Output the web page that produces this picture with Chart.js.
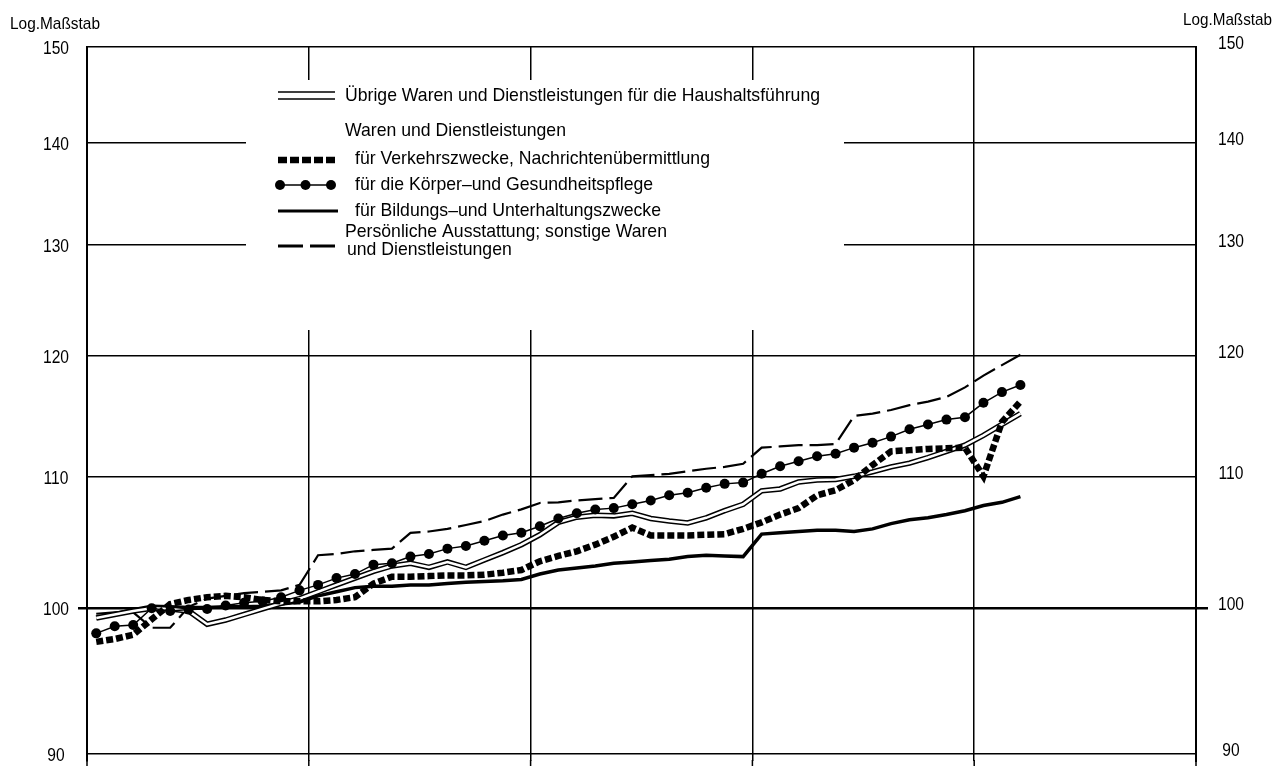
<!DOCTYPE html>
<html>
<head>
<meta charset="utf-8">
<script src="https://cdn.jsdelivr.net/npm/chart.js@4"></script>
<style>
  html, body { margin: 0; padding: 0; background: #fff; overflow: hidden; }
  canvas { display: block; }
</style>
</head>
<body>
<canvas id="chart" width="1275" height="766"></canvas>
<script>
// Monatswerte (Index), 51 Monate ab Jahresbeginn
const seriesNames = [
    "Übrige Waren und Dienstleistungen für die Haushaltsführung",
    "für Verkehrszwecke, Nachrichtenübermittlung",
    "für die Körper–und Gesundheitspflege",
    "für Bildungs–und Unterhaltungszwecke",
    "Persönliche Ausstattung; sonstige Waren und Dienstleistungen"
];
const uebrige = [99.3, 99.55, 99.8, 100.0, 99.95, 99.8, 98.85, 99.15, 99.55, 99.95,
    100.35, 100.7, 101.2, 101.7, 102.2, 102.7, 103.1, 103.3, 103.0, 103.4,
    103.0, 103.55, 104.1, 104.7, 105.45, 106.4, 106.8, 106.95, 106.9, 107.1,
    106.7, 106.5, 106.35, 106.75, 107.3, 107.8, 108.85, 109.0, 109.55, 109.7,
    109.75, 110.0, 110.35, 110.75, 111.05, 111.5, 112.0, 112.5, 113.3, 114.2, 115.1];
const verkehr = [97.6, 97.8, 98.1, 99.2, 100.3, 100.6, 100.8, 100.9, 100.8, 100.6,
    100.5, 100.5, 100.5, 100.6, 100.8, 101.8, 102.3, 102.3, 102.35, 102.4,
    102.4, 102.45, 102.6, 102.8, 103.45, 103.85, 104.2, 104.7, 105.3, 106.0,
    105.4, 105.4, 105.4, 105.45, 105.5, 105.9, 106.4, 107.0, 107.5, 108.5,
    108.9, 109.7, 110.9, 112.0, 112.1, 112.2, 112.25, 112.3, 110.0, 114.4, 116.1];
const koerper = [98.2, 98.7, 98.8, 100.0, 99.8, 99.9, 99.95, 100.2, 100.4, 100.5,
    100.8, 101.3, 101.7, 102.2, 102.5, 103.2, 103.3, 103.8, 104.0, 104.4,
    104.6, 105.0, 105.4, 105.6, 106.1, 106.7, 107.1, 107.4, 107.5, 107.8,
    108.1, 108.5, 108.7, 109.1, 109.4, 109.5, 110.2, 110.8, 111.2, 111.6,
    111.8, 112.3, 112.7, 113.2, 113.8, 114.2, 114.6, 114.8, 116.0, 116.9, 117.5];
const bildung = [99.3, 99.6, 99.9, 100.15, 100.1, 100.05, 100.05, 100.1, 100.1, 100.15,
    100.3, 100.45, 100.9, 101.2, 101.5, 101.6, 101.6, 101.7, 101.7, 101.8,
    101.9, 101.95, 102.0, 102.1, 102.5, 102.8, 102.95, 103.1, 103.3, 103.4,
    103.5, 103.6, 103.8, 103.9, 103.85, 103.8, 105.5, 105.6, 105.7, 105.8,
    105.8, 105.7, 105.9, 106.3, 106.6, 106.75, 107.0, 107.3, 107.7, 107.95, 108.4];
const persoenlich = [99.6, 99.7, 99.7, 98.6, 98.6, 100.1, 100.7, 100.9, 101.1, 101.2,
    101.3, 101.7, 103.9, 104.0, 104.2, 104.3, 104.4, 105.6, 105.7, 105.9,
    106.2, 106.5, 107.0, 107.4, 107.9, 107.95, 108.1, 108.2, 108.3, 110.0,
    110.1, 110.2, 110.4, 110.6, 110.75, 111.0, 112.3, 112.4, 112.5, 112.5,
    112.6, 114.9, 115.1, 115.4, 115.8, 116.1, 116.5, 117.3, 118.3, 119.2, 120.1];
const yTicks = [90, 100, 110, 120, 130, 140, 150];
const yearTicks = [0, 12, 24, 36, 48, 60];

const FONT = '"Liberation Sans", Arial, sans-serif';

function toPoints(values) {
    return values.map((v, i) => ({ x: i + 0.5, y: v }));
}

// schmal gesetzter Text (Schrift horizontal gestaucht)
function narrowText(ctx, text, x, y, sx, align) {
    ctx.save();
    ctx.translate(x, y);
    ctx.scale(sx, 1);
    ctx.textAlign = align || 'left';
    ctx.fillText(text, 0, 0);
    ctx.restore();
}

const overlay = {
    id: 'overlay',
    beforeDatasetsDraw(chart) {
        const ctx = chart.ctx;
        const y = chart.scales.y;
        const x = chart.scales.x;
        ctx.save();
        // senkrechte Linien bis zum Bildrand
        ctx.strokeStyle = '#000';
        ctx.lineWidth = 1.5;
        yearTicks.forEach(v => {
            const px = x.getPixelForValue(v);
            ctx.beginPath();
            ctx.moveTo(px, chart.chartArea.bottom - 1);
            ctx.lineTo(px, chart.height);
            ctx.stroke();
        });
        // Legendenfeld verdeckt das Gitter
        ctx.fillStyle = '#fff';
        ctx.fillRect(246, 80, 598, 250);
        // 100er Linie kräftiger
        const p = y.getPixelForValue(100);
        ctx.lineWidth = 2.5;
        ctx.beginPath();
        ctx.moveTo(78, p);
        ctx.lineTo(1208, p);
        ctx.stroke();
        ctx.restore();
    },
    afterDraw(chart) {
        const ctx = chart.ctx;
        const y = chart.scales.y;
        ctx.save();
        ctx.fillStyle = '#000';
        ctx.strokeStyle = '#000';
        ctx.textBaseline = 'middle';

        // Achsenbeschriftung
        ctx.font = '19px ' + FONT;
        yTicks.forEach(v => {
            const p = y.getPixelForValue(v);
            narrowText(ctx, String(v), 56, p + 2, 0.82, 'center');
            narrowText(ctx, String(v), 1231, p - 3, 0.82, 'center');
        });

        ctx.font = '17px ' + FONT;
        const lw = ctx.measureText('Log.Maßstab').width;
        narrowText(ctx, 'Log.Maßstab', 10, 24, 90 / lw, 'left');
        narrowText(ctx, 'Log.Maßstab', 1183, 20, 89 / lw, 'left');

        ctx.font = '19px ' + FONT;
        const sx = 475 / ctx.measureText(seriesNames[0]).width;

        // Übrige: Doppellinie
        ctx.lineWidth = 1.5;
        ctx.beginPath();
        ctx.moveTo(278, 92); ctx.lineTo(335, 92);
        ctx.moveTo(278, 99); ctx.lineTo(335, 99);
        ctx.stroke();
        narrowText(ctx, seriesNames[0], 345, 96, sx);

        narrowText(ctx, 'Waren und Dienstleistungen', 345, 131, sx);

        // Verkehr
        ctx.lineWidth = 6.5;
        ctx.setLineDash([9, 3]);
        ctx.beginPath();
        ctx.moveTo(278, 160); ctx.lineTo(338, 160);
        ctx.stroke();
        ctx.setLineDash([]);
        narrowText(ctx, seriesNames[1], 355, 159, sx);

        // Körper
        ctx.lineWidth = 1.5;
        ctx.beginPath();
        ctx.moveTo(280, 185); ctx.lineTo(331, 185);
        ctx.stroke();
        [280, 305.5, 331].forEach(cx => {
            ctx.beginPath();
            ctx.arc(cx, 185, 5, 0, Math.PI * 2);
            ctx.fill();
        });
        narrowText(ctx, seriesNames[2], 355, 185, sx);

        // Bildung
        ctx.lineWidth = 3;
        ctx.beginPath();
        ctx.moveTo(278, 211); ctx.lineTo(338, 211);
        ctx.stroke();
        narrowText(ctx, seriesNames[3], 355, 211, sx);

        // Persönliche Ausstattung
        ctx.lineWidth = 3;
        ctx.setLineDash([25, 7]);
        ctx.beginPath();
        ctx.moveTo(278, 246); ctx.lineTo(335, 246);
        ctx.stroke();
        ctx.setLineDash([]);
        narrowText(ctx, 'Persönliche Ausstattung; sonstige Waren', 345, 232, sx);
        narrowText(ctx, 'und Dienstleistungen', 347, 250, sx);
        ctx.restore();
    }
};

const logAxis = {
    type: 'logarithmic',
    min: 89.55,
    max: 150,
    afterBuildTicks: scale => { scale.ticks = yTicks.map(v => ({ value: v })); },
    ticks: { display: false },
    border: { display: true, color: '#000', width: 2 }
};

new Chart(document.getElementById('chart'), {
    type: 'line',
    data: {
        datasets: [
            {
                label: seriesNames[2],
                data: toPoints(koerper),
                borderColor: '#000',
                borderWidth: 1.5,
                pointRadius: 5,
                pointBackgroundColor: '#000',
                pointBorderWidth: 0
            },
            {
                label: seriesNames[1],
                data: toPoints(verkehr),
                borderColor: '#000',
                borderWidth: 6.5,
                borderDash: [7, 3],
                pointRadius: 0
            },
            {
                label: seriesNames[0] + ' (innen)',
                data: toPoints(uebrige),
                borderColor: '#fff',
                borderWidth: 2.5,
                pointRadius: 0
            },
            {
                label: seriesNames[0],
                data: toPoints(uebrige),
                borderColor: '#000',
                borderWidth: 5.5,
                pointRadius: 0
            },
            {
                label: seriesNames[3],
                data: toPoints(bildung),
                borderColor: '#000',
                borderWidth: 3.5,
                pointRadius: 0
            },
            {
                label: seriesNames[4],
                data: toPoints(persoenlich),
                borderColor: '#000',
                borderWidth: 2.2,
                borderDash: [24, 7],
                pointRadius: 0
            }
        ]
    },
    options: {
        responsive: false,
        animation: false,
        layout: { padding: { left: 0, right: 0, top: 47, bottom: 0 } },
        plugins: {
            legend: { display: false },
            tooltip: { enabled: false }
        },
        scales: {
            x: {
                type: 'linear',
                min: 0,
                max: 60,
                afterBuildTicks: scale => { scale.ticks = yearTicks.map(v => ({ value: v })); },
                afterFit: scale => { scale.height = 0; },
                ticks: { display: false },
                grid: { color: '#000', lineWidth: 1.5, drawTicks: false },
                border: { display: false }
            },
            y: Object.assign({}, logAxis, {
                position: 'left',
                afterFit: scale => { scale.width = 87; },
                grid: { color: '#000', lineWidth: 1.5, drawTicks: false }
            }),
            y2: Object.assign({}, logAxis, {
                position: 'right',
                afterFit: scale => { scale.width = 79; },
                grid: { display: false, drawTicks: false }
            })
        }
    },
    plugins: [overlay]
});
</script>
</body>
</html>
